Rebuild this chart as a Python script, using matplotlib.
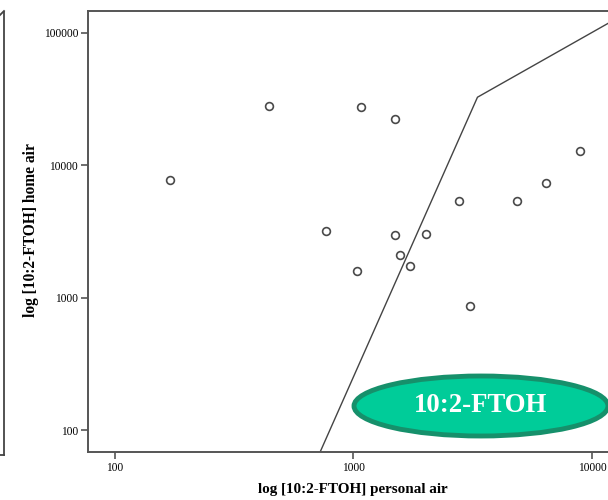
import numpy as np
import matplotlib
matplotlib.use("Agg")
from matplotlib import pyplot as plt
from matplotlib.patches import Ellipse
from matplotlib.lines import Line2D
from matplotlib.ticker import FixedLocator, NullLocator

# 10:2-FTOH, personal air vs home air
personal = [170, 443, 1075, 1487, 767, 1035, 1493, 1567, 1726, 2014, 2768, 3080, 4850, 6410, 8910]
home = [7700, 27900, 27400, 22300, 3170, 1580, 2960, 2090, 1725, 3010, 5350, 860, 5350, 7310, 12760]

# reference line (drawn in the original)
line_x = [724, 3310, 11660]
line_y = [68, 32700, 118000]

ticks = [100, 1000, 10000, 100000]
tick_labels = ["100", "1000", "10000", "100000"]

plt.rcParams['font.family'] = ['Liberation Serif', 'DejaVu Serif']

fig = plt.figure(figsize=(6.08, 5.0), dpi=100)
W, H = 608.0, 500.0
ax = fig.add_axes([88 / W, 48 / H, (640 - 88) / W, (452 - 11) / H])

ax.set_xscale("log")
ax.set_yscale("log")
ax.set_xlim(10 ** 1.8868, 10 ** 4.2013)
ax.set_ylim(10 ** 1.834, 10 ** 5.166)

ax.plot(line_x, line_y, color="#444444", lw=1.0, zorder=2)
ax.plot(personal, home, linestyle="none", marker="o", markersize=5.6,
        markerfacecolor="white", markeredgecolor="#4a4a4a", markeredgewidth=1.2, zorder=3)

ax.xaxis.set_major_locator(FixedLocator(ticks[:3]))
ax.yaxis.set_major_locator(FixedLocator(ticks))
ax.xaxis.set_minor_locator(NullLocator())
ax.yaxis.set_minor_locator(NullLocator())
ax.set_xticklabels(tick_labels[:3])
ax.set_yticklabels(tick_labels)
ax.tick_params(length=5, width=1.2, color="#555555", labelsize=8.3, pad=2)

for s in ax.spines.values():
    s.set_color("#555555")
    s.set_linewidth(1.4)

ax.set_xlabel("log [10:2-FTOH] personal air", fontsize=10.9, fontweight="bold")
ax.set_ylabel("log [10:2-FTOH] home air", fontsize=11.2, fontweight="bold")
ax.xaxis.set_label_coords((353 - 88) / 552.0, -(483 - 452) / 441.0)
ax.yaxis.set_label_coords(-(88 - 39) / 552.0, (452 - 230) / 441.0)

# left frame edge from the page
fig.add_artist(Line2D([4 / W, 4 / W], [1 - 455 / H, 1 - 12 / H], transform=fig.transFigure,
                      color="#444444", lw=1.3))
fig.add_artist(Line2D([0, 4 / W], [1 - 455 / H, 1 - 455 / H], transform=fig.transFigure,
                      color="#444444", lw=1.3))
fig.add_artist(Line2D([0, 4 / W], [1 - 15 / H, 1 - 11 / H], transform=fig.transFigure,
                      color="#444444", lw=1.3))

# label badge
ell = Ellipse((481 / W, 1 - 406 / H), 254 / W, 60 / H, transform=fig.transFigure,
              facecolor="#00CC99", edgecolor="#16906B", lw=3.5, zorder=5)
fig.add_artist(ell)
fig.text(481 / W, 1 - 406 / H, "10:2-FTOH", color="white", fontsize=19.3, fontweight="bold",
         ha="center", va="center", zorder=6)

fig.savefig("out.png", dpi=100)
